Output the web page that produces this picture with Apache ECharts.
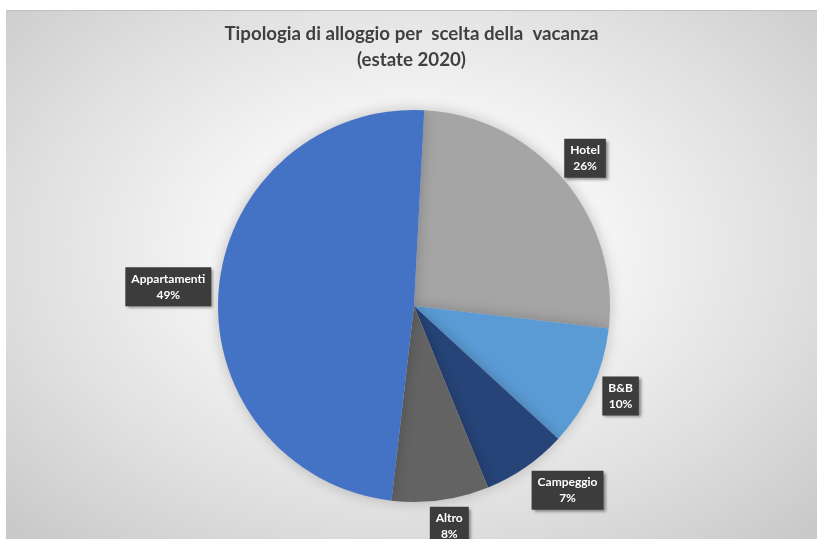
<!DOCTYPE html>
<html lang="it">
<head>
<meta charset="utf-8">
<title>Tipologia di alloggio per scelta della vacanza (estate 2020)</title>
<script src="https://cdn.jsdelivr.net/npm/echarts@6/dist/echarts.min.js"></script>
<style>
  html, body { margin: 0; padding: 0; background: #ffffff; }
  body { width: 817px; height: 539px; position: relative; overflow: hidden; }
  #frame {
    position: absolute; left: 6px; top: 10px; width: 811px; height: 529px;
    border-top: 1px solid #c0c0c0;
    background: radial-gradient(ellipse 70% 75% at 50% 45%, #ffffff 0%, #f4f4f4 35%, #dedede 70%, #c9c9c9 100%);
  }
  #chart { position: absolute; left: 0; top: 0; width: 811px; height: 529px; }
</style>
</head>
<body>
<div id="frame"><div id="chart"></div></div>
<script>
// Tipologia di alloggio, quote percentuali (estate 2020)
const categories = ['Hotel', 'B&B', 'Campeggio', 'Altro', 'Appartamenti'];
const shares = [26, 10, 7, 8, 49];

// Slice colours and small label nudges, in category order
const sliceColors = ['#A5A5A5', '#5B9BD5', '#264478', '#636363', '#4472C4'];
const labelNudge = [[-5, 1], [-3, -6], [22, -5], [4, -8], [-16, 0]];

const chart = echarts.init(document.getElementById('chart'), null, { renderer: 'canvas' });

const pieCenter = [408, 295];
const pieRadius = 196;

const sliceData = categories.map((name, i) => ({
  name: name,
  value: shares[i],
  itemStyle: { color: sliceColors[i] }
}));

const labelData = categories.map((name, i) => ({
  name: name,
  value: shares[i],
  label: { offset: labelNudge[i] }
}));

chart.setOption({
  backgroundColor: 'transparent',
  animation: false,
  title: {
    text: 'Tipologia di alloggio per  scelta della  vacanza\n(estate 2020)',
    left: 'center',
    top: 5,
    textStyle: {
      fontFamily: 'Lato',
      fontWeight: 'bold',
      fontSize: 18.7,
      lineHeight: 26,
      color: '#404040'
    }
  },
  series: [
    {
      type: 'pie',
      name: 'slices',
      center: pieCenter,
      radius: pieRadius,
      startAngle: 87,
      clockwise: true,
      silent: true,
      data: sliceData,
      label: { show: false },
      labelLine: { show: false },
      itemStyle: {
        borderWidth: 0,
        shadowBlur: 14,
        shadowColor: 'rgba(0,0,0,0.22)'
      }
    },
    {
      // invisible ring that carries the data labels just outside the pie
      type: 'pie',
      name: 'labels',
      center: pieCenter,
      radius: [205, 250],
      startAngle: 87,
      clockwise: true,
      silent: true,
      z: 5,
      data: labelData,
      itemStyle: { color: 'rgba(0,0,0,0)' },
      labelLine: { show: false },
      label: {
        show: true,
        position: 'inside',
        rotate: 0,
        formatter: '{b}\n{c}%',
        fontFamily: 'Lato',
        fontWeight: 'bold',
        fontSize: 12,
        lineHeight: 16,
        color: '#ffffff',
        backgroundColor: '#3c3c3c',
        padding: [4, 6, 3, 6],
        align: 'center',
        shadowColor: 'rgba(0,0,0,0.45)',
        shadowBlur: 3,
        shadowOffsetX: 2,
        shadowOffsetY: 2
      }
    }
  ]
});
</script>
</body>
</html>
